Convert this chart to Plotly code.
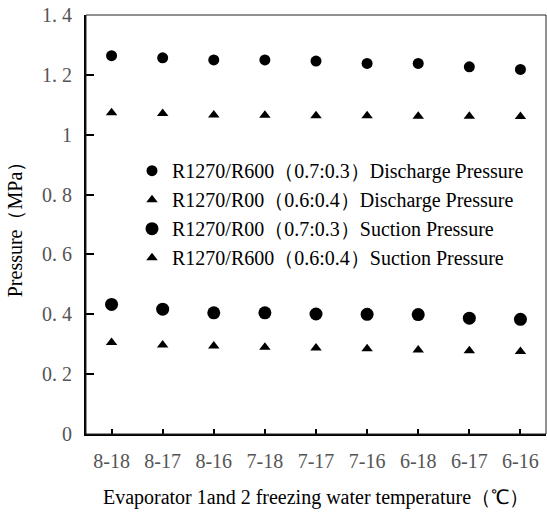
import plotly.graph_objects as go

categories = ["8-18", "8-17", "8-16", "7-18", "7-17", "7-16", "6-18", "6-17", "6-16"]
discharge_07 = [1.264, 1.257, 1.250, 1.250, 1.246, 1.238, 1.238, 1.227, 1.218]
discharge_06 = [1.073, 1.071, 1.066, 1.065, 1.063, 1.063, 1.062, 1.062, 1.061]
suction_07 = [0.433, 0.417, 0.405, 0.405, 0.401, 0.400, 0.399, 0.387, 0.383]
suction_06 = [0.306, 0.297, 0.294, 0.290, 0.287, 0.285, 0.281, 0.278, 0.276]

names = [
    "R1270/R600（0.7:0.3）Discharge Pressure",
    "R1270/R00（0.6:0.4）Discharge Pressure",
    "R1270/R00（0.7:0.3）Suction Pressure",
    "R1270/R600（0.6:0.4）Suction Pressure",
]
y_ticks = [0, 0.2, 0.4, 0.6, 0.8, 1.0, 1.2, 1.4]
y_tick_text = ["0", "0. 2", "0. 4", "0. 6", "0. 8", "1", "1. 2", "1. 4"]

series = [discharge_07, discharge_06, suction_07, suction_06]
symbols = ["circle", "triangle-up", "circle", "triangle-up"]
sizes = [11, 10, 13, 10]

serif = "Liberation Serif"

fig = go.Figure()
for i, (vals, sym, sz, nm) in enumerate(zip(series, symbols, sizes, names)):
    fig.add_trace(go.Scatter(
        x=list(range(len(categories))), y=vals, mode="markers", name=nm,
        legendgroup=f"g{i}",
        marker=dict(symbol=sym, size=sz, color="black", line=dict(width=0)),
    ))

fig.update_layout(
    width=547, height=518,
    margin=dict(l=86, r=1, t=15, b=84),
    paper_bgcolor="white", plot_bgcolor="white",
    font=dict(family=serif, size=20, color="black"),
    showlegend=True,
    legend=dict(
        x=0.10, y=0.675, xanchor="left", yanchor="top",
        bgcolor="rgba(0,0,0,0)", borderwidth=0,
        font=dict(family=serif, size=20, color="black"),
        tracegroupgap=0, itemwidth=30,
    ),
    xaxis=dict(
        range=[-0.5, len(categories) - 0.5],
        tickmode="array", tickvals=list(range(len(categories))), ticktext=categories,
        ticks="inside", ticklen=5, tickwidth=1.5, tickcolor="black",
        showline=True, linecolor="black", linewidth=2,
        showgrid=False, zeroline=False,
        tickfont=dict(family=serif, size=20, color="#555555"),
        ticklabelstandoff=8,
        title=dict(text="Evaporator 1and 2 freezing water temperature（℃）",
                   font=dict(family=serif, size=20, color="black"), standoff=19),
    ),
    yaxis=dict(
        range=[0, 1.4],
        tickmode="array", tickvals=y_ticks, ticktext=y_tick_text,
        ticks="inside", ticklen=8, tickwidth=1.5, tickcolor="black",
        showline=True, linecolor="black", linewidth=2,
        showgrid=False, zeroline=False,
        tickfont=dict(family=serif, size=20, color="#555555"),
        ticklabelstandoff=8,
        title=dict(text="Pressure（MPa）",
                   font=dict(family=serif, size=20, color="black"), standoff=14),
    ),
    shapes=[dict(type="rect", xref="paper", yref="paper", x0=0, y0=0, x1=1, y1=1,
                 line=dict(color="#222222", width=1), layer="above")],
)

fig.write_html("out.html")
